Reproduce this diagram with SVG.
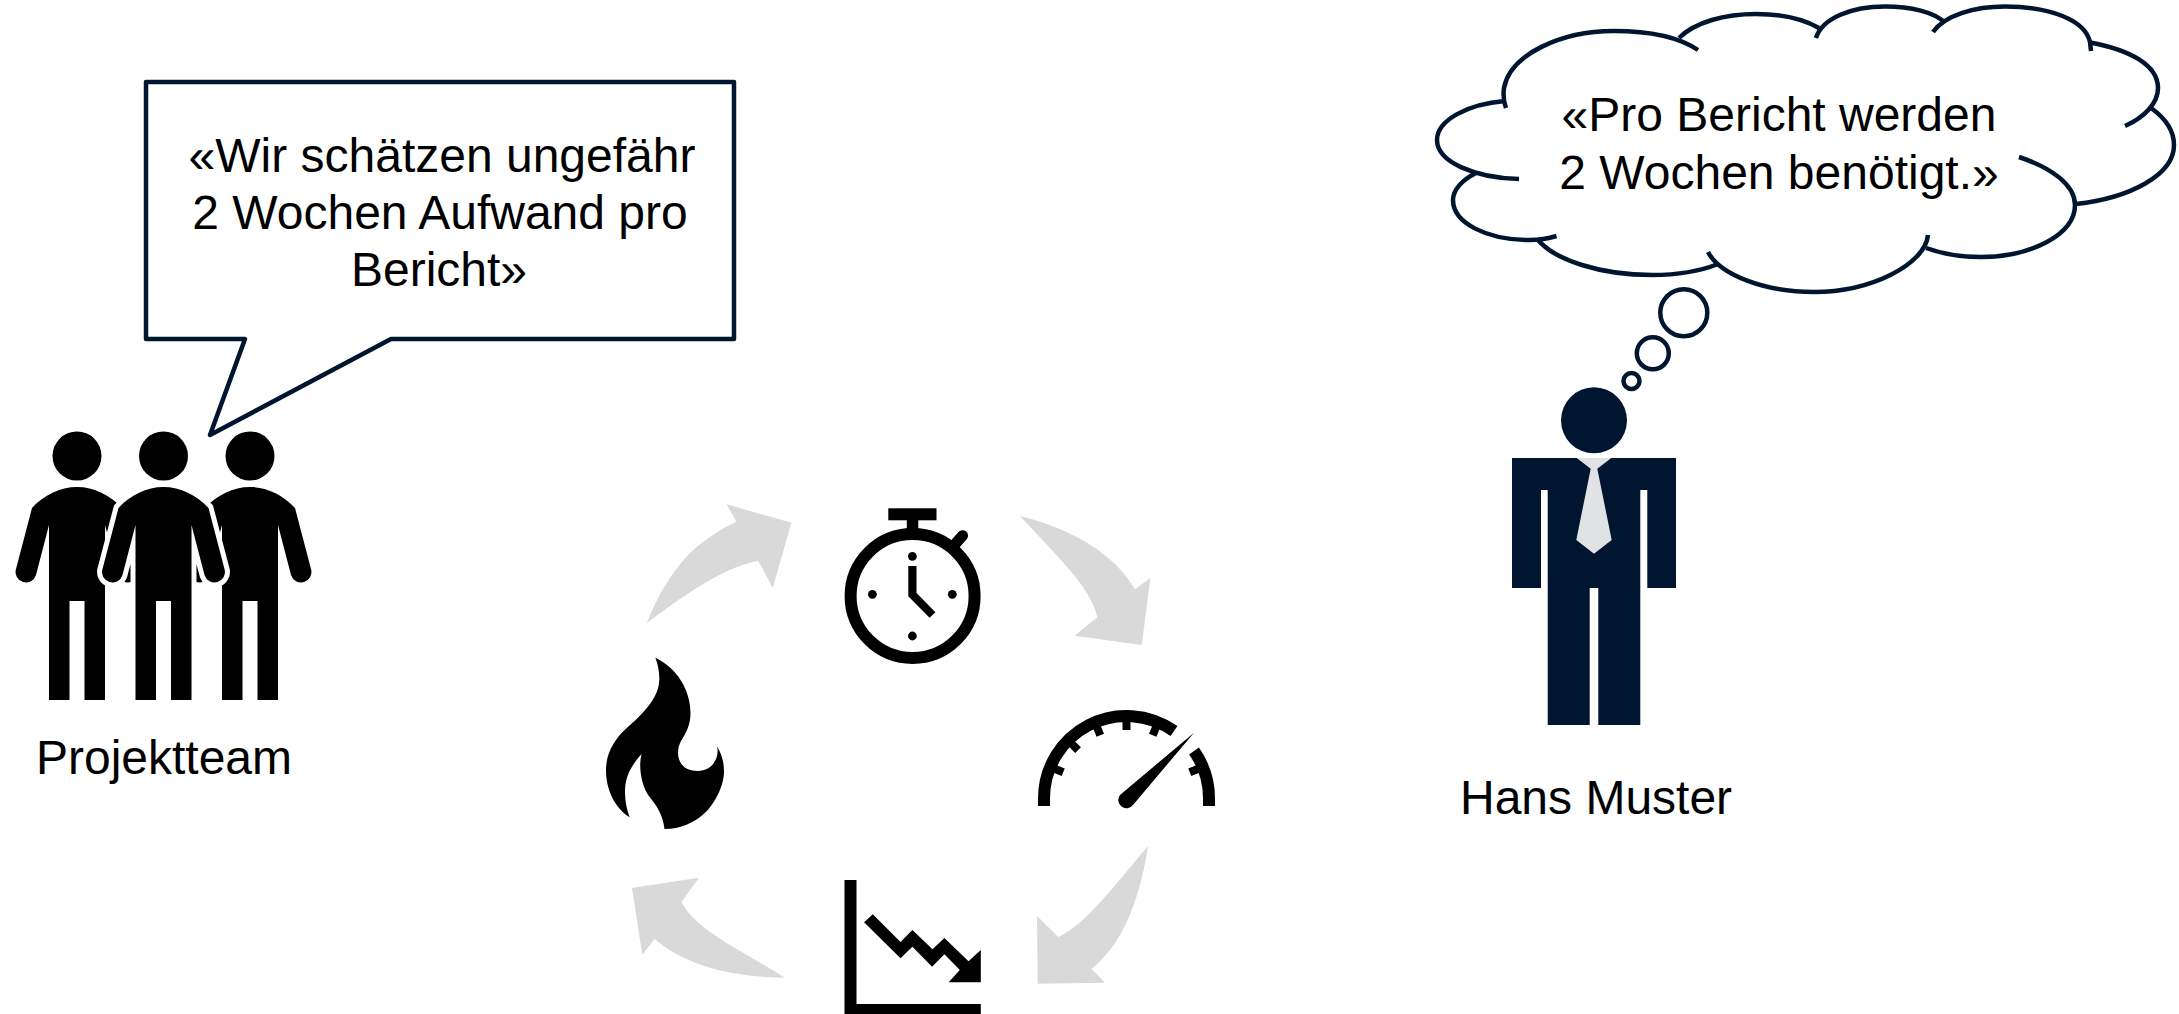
<svg xmlns="http://www.w3.org/2000/svg" xmlns:xlink="http://www.w3.org/1999/xlink" width="2179" height="1014" viewBox="0 0 2179 1014">
<style>
text{font-family:"Liberation Sans",Arial,sans-serif;font-size:48px;fill:#000}
.mid{text-anchor:middle}
.line{fill:none;stroke:#00152f;stroke-width:4.5}
.cl{fill:none;stroke:#00152f;stroke-width:4.5;stroke-linecap:butt}
.arrow{fill:#d9d9d9;stroke:none}
.ink{fill:none;stroke:#000;stroke-width:12}
.tick{stroke:#000;stroke-width:8}
</style>
<defs>
<path id="p" d="M-45,508 C-33,495 -17,487 0,487 C17,487 33,495 45,508 L61,569 A10.4,10.4 0 0 1 41,575 L28,525 V700 H7.5 V601 H-7.5 V700 H-28 V525 L-41,575 A10.4,10.4 0 0 1 -61,569 Z"/>
</defs>
<rect width="2179" height="1014" fill="#fff"/>
<g id="team">
<circle cx="77" cy="456" r="24.5"/><circle cx="163.5" cy="456" r="24.5"/><circle cx="250" cy="456" r="24.5"/>
<use xlink:href="#p" href="#p" x="77"/>
<use xlink:href="#p" href="#p" x="250"/>
<use xlink:href="#p" href="#p" x="163.5" stroke="#fff" stroke-width="10" paint-order="stroke"/>
<text x="164" y="774" class="mid">Projektteam</text>
</g>
<g id="speech-bubble">
<path class="line" fill="#fff" stroke-linejoin="round" d="M146,82 H734 V339 H391 L210,435 L245,339 H146 Z"/>
<text x="442" y="172" class="mid">«Wir schätzen ungefähr</text>
<text x="440" y="229" class="mid">2 Wochen Aufwand pro</text>
<text x="439" y="286" class="mid">Bericht»</text>
</g>
<g id="connectors">
<path class="arrow" d="M646.7,623.3 C670,565 698,540 736.4,521.7 L726.5,504.3 L791.4,522.7 L772.8,587.7 L758.2,561 C730,565 690,590 646.7,623.3 Z"/>
<path class="arrow" d="M1020.3,516 C1075,530 1115,555 1135,589.3 L1150.4,578 L1141.7,645 L1074.5,635.7 L1097.4,617.3 C1090,585 1055,555 1020.3,516 Z"/>
<path class="arrow" d="M1148,846 C1140,900 1122,945 1091.5,969 L1105,982.7 L1037.7,983.7 L1037,916 L1058.3,937 C1085,925 1115,885 1148,846 Z"/>
<path class="arrow" d="M784.7,977.7 C730,977 685,965 654.6,939 L642.3,954.7 L632,888 L698.9,877.7 L681.5,902 C695,930 745,952 784.7,977.7 Z"/>
</g>
<g id="stopwatch">
<circle class="ink" cx="912.6" cy="596" r="62"/>
<rect x="888.3" y="508.3" width="48.2" height="12"/>
<rect x="906.8" y="518" width="11.5" height="12"/>
<path d="M955.5,543.7 L962.6,535.7" stroke="#000" stroke-width="11" stroke-linecap="round" fill="none"/>
<path d="M912.4,566 V594.5 L932.5,615" stroke="#000" stroke-width="8.2" fill="none"/>
<circle cx="912.4" cy="556.3" r="4.4"/><circle cx="872.4" cy="594.3" r="4.4"/><circle cx="952.3" cy="594.3" r="4.4"/><circle cx="912.4" cy="636" r="4.4"/>
</g>
<g id="gauge">
<path class="ink" d="M1044,806 V798.5 A82.5,82.5 0 0 1 1174,731"/>
<path class="ink" d="M1194,751 A82.5,82.5 0 0 1 1209,798.5 V806"/>
<g class="tick">
<line x1="1126.5" y1="720" x2="1126.5" y2="730"/>
<line x1="1126.5" y1="720" x2="1126.5" y2="730" transform="rotate(-22.5 1126.5 798.5)"/>
<line x1="1126.5" y1="720" x2="1126.5" y2="730" transform="rotate(-45 1126.5 798.5)"/>
<line x1="1126.5" y1="720" x2="1126.5" y2="730" transform="rotate(-67.5 1126.5 798.5)"/>
<line x1="1126.5" y1="720" x2="1126.5" y2="730" transform="rotate(22.5 1126.5 798.5)"/>
<line x1="1126.5" y1="720" x2="1126.5" y2="730" transform="rotate(67.5 1126.5 798.5)"/>
</g>
<path d="M1194,732.7 L1120,795 A8,8 0 1 0 1133,805 Z"/>
</g>
<g id="chart">
<path class="ink" d="M850.5,880 V1010 H980.8"/>
<polygon points="872.8,914.3 900.5,942 912.4,930 932.5,949.3 944.4,938 968.5,961.3 980.8,950 980.8,982.3 948.7,982.3 959.8,970 944.4,954.3 932.1,966.7 912.4,946.7 900.5,958.3 864.1,922.3"/>
</g>
<g id="flame">
<path d="M655.4,657.7 C677,668 690.5,690 690.5,713 C690.5,725 686,733 681,741 C675,752 677,771 697.7,771 C712,771 720,758 717,746 C722,755 724,762 724,772 C724,785 715,803 706.8,811 C695,823 680,829 664.5,829 C663,815 657,806 649.4,796.7 C642,787 638,768 641.5,754 C630,767 625,778 625,792 C625,802 627,810 629.7,817.3 C615,808 606,790 606,770 C606,760 609,751 613.8,743.3 C620,733 628,727 635.6,720 C648,708 659,695 659.3,680 C659.5,672 658,665 655.4,657.7 Z"/>
</g>
<g id="thought-cloud">
<path class="cl" d="M1506,108 C1503,100 1503,95 1504,88 C1510,55 1560,31 1614,31 C1650,31 1680,38 1698,50"/>
<path class="cl" d="M1679,38 C1695,22 1725,14 1756,14 C1780,14 1803,19 1819,28"/>
<path class="cl" d="M1816,38 C1822,18 1852,6.5 1885,6.5 C1910,6.5 1935,12 1945,23"/>
<path class="cl" d="M1933,32 C1945,15 1975,6.5 2005,6.5 C2050,6.5 2085,20 2090,42 L2091,51"/>
<path class="cl" d="M2090,42.5 C2130,50 2158,65 2158,88 C2158,103 2145,117 2125,126"/>
<path class="cl" d="M2151,108 C2165,118 2174,130 2174,145 C2174,175 2130,198 2076,204"/>
<path class="cl" d="M2019,157 C2052,168 2075,185 2075,205 C2075,235 2030,257 1981,257 C1960,257 1940,253 1926,248"/>
<path class="cl" d="M1928,235 C1925,265 1870,292 1814,292 C1765,292 1720,275 1708,252"/>
<path class="cl" d="M1718,264 C1698,272 1675,275 1652,275 C1600,275 1555,260 1538,240"/>
<path class="cl" d="M1556.5,236 C1547,239 1538,240 1529,240 C1487,240 1453,223 1453,200 C1453,190 1462,180 1476,173"/>
<path class="cl" d="M1519,179 C1475,178 1437,162 1437,140 C1437,120 1468,104 1505,101"/>
<circle class="cl" cx="1683.8" cy="312.7" r="23.5"/>
<circle class="cl" cx="1652.8" cy="353.3" r="16"/>
<circle class="cl" cx="1631.5" cy="381" r="8"/>
<text x="1779" y="131" class="mid">«Pro Bericht werden</text>
<text x="1779" y="189" class="mid">2 Wochen benötigt.»</text>
</g>
<g id="hans-muster">
<circle cx="1594" cy="420.3" r="33" fill="#00152f"/>
<path fill="#00152f" d="M1512,458 H1676 V588 H1647.3 V490 H1640.3 V725 H1598.3 V588 H1589.7 V725 H1547.7 V490 H1541 V588 H1512 Z"/>
<polygon fill="#e0e2e4" points="1576.7,458 1611.3,458 1597.3,468.7 1611.7,540 1594,553.7 1576.3,540 1590.7,468.7"/>
<text x="1460" y="814">Hans Muster</text>
</g>
</svg>
